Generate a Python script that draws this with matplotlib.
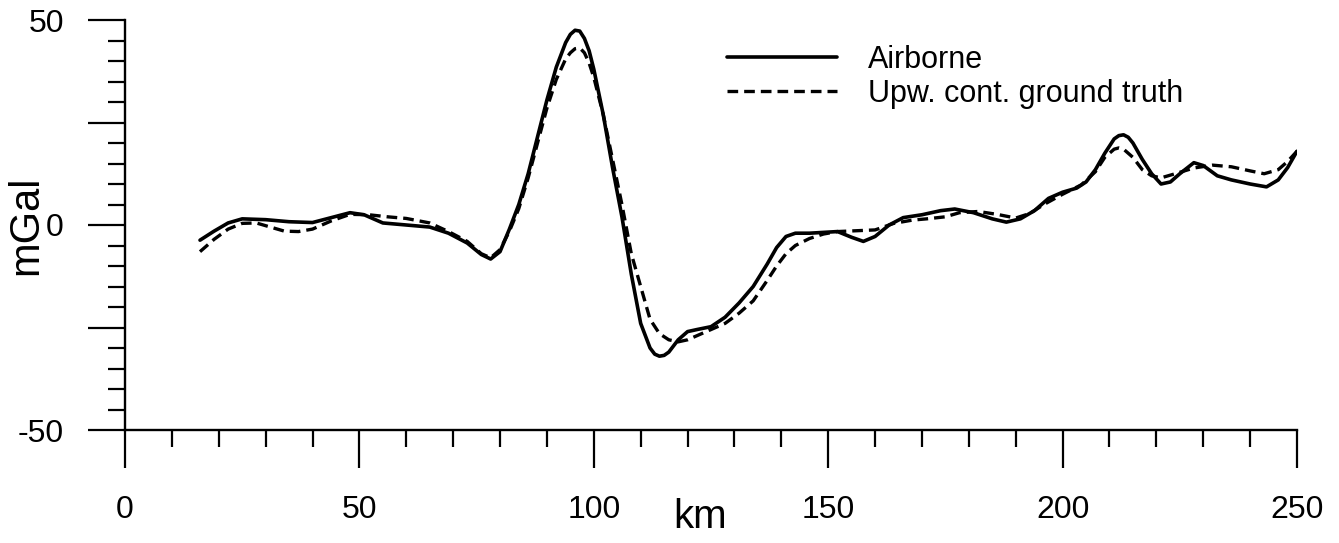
import matplotlib
matplotlib.use('Agg')
import matplotlib.pyplot as plt
from matplotlib.ticker import MultipleLocator

# Airborne gravity profile (km, mGal)
km_air = [16, 19, 22, 25, 30, 35, 40, 44, 48, 51, 55, 60, 65, 69, 73, 76, 78, 80, 82, 84,
          86, 88, 90, 92, 94, 95, 96, 97, 98, 99, 100, 102, 104, 106, 108, 110, 112, 113,
          114, 115, 116, 118, 120, 122, 125, 128, 131, 134, 137, 139, 141, 143, 146, 149,
          152, 155, 157.5, 160, 163, 166, 170, 174, 177, 181, 185, 188, 191, 194, 197, 200,
          203, 205, 207, 209, 211, 212, 213, 214, 215, 217, 219, 221, 223, 225, 228, 230,
          233, 236, 240, 243.5, 246, 248, 250]
mgal_air = [-3.7, -1.5, 0.5, 1.5, 1.3, 0.8, 0.6, 1.8, 3.0, 2.5, 0.5, 0.0, -0.5, -2.0, -4.4,
            -7.2, -8.3, -6.5, -1.0, 5.0, 12.5, 21.5, 30.5, 38.5, 44.5, 46.5, 47.5, 47.3, 45.5,
            42.5, 38.0, 27.0, 14.0, 2.0, -12.0, -24.0, -30.0, -31.5, -32.0, -31.8, -31.0,
            -28.0, -26.0, -25.5, -24.8, -22.5, -19.0, -15.0, -9.5, -5.5, -2.8, -2.0, -2.0,
            -1.8, -1.6, -3.0, -4.0, -2.8, 0.0, 1.8, 2.5, 3.5, 3.9, 3.0, 1.5, 0.7, 1.5, 3.5,
            6.5, 8.0, 9.0, 10.5, 13.5, 17.5, 21.0, 21.8, 22.0, 21.4, 20.0, 16.0, 12.5, 10.0,
            10.5, 12.5, 15.2, 14.5, 12.0, 11.0, 10.0, 9.3, 11.0, 14.0, 18.0]

# Upward continued ground truth (km, mGal)
km_gt = [16, 19, 22, 25, 28, 31, 34, 37, 40, 44, 48, 52, 56, 60, 65, 69, 73, 76, 78, 80,
         82, 84, 86, 88, 90, 92, 94, 95, 96, 97, 98, 99, 100, 102, 104, 106, 108, 110, 112,
         114, 116, 118, 120, 122, 125, 128, 131, 134, 137, 139, 141, 143, 146, 149, 152, 156,
         160, 164, 168, 171, 175, 178, 182, 186, 190, 193, 196, 200, 204, 207, 209, 211, 212,
         213, 215, 217, 219, 221, 224, 228, 232, 236, 240, 243, 246, 248, 250]
mgal_gt = [-6.5, -3.5, -1.0, 0.4, 0.5, -0.5, -1.5, -1.6, -1.0, 1.0, 2.6, 2.5, 2.0, 1.6, 0.5,
           -1.6, -4.0, -7.0, -8.0, -6.0, -1.5, 4.0, 11.5, 20.0, 28.5, 35.5, 40.5, 42.0, 43.0,
           43.2, 42.0, 39.5, 36.0, 27.0, 16.0, 5.0, -7.0, -15.0, -23.0, -26.5, -28.0, -28.5,
           -28.0, -27.0, -25.5, -24.0, -21.5, -18.5, -13.5, -10.0, -7.0, -5.0, -3.3, -2.2,
           -1.6, -1.4, -1.2, 0.4, 1.2, 1.5, 2.0, 3.0, 3.3, 2.6, 1.7, 2.8, 5.0, 7.5, 9.8, 13.0,
           16.5, 18.5, 18.8, 18.5, 16.5, 13.5, 12.0, 11.5, 12.5, 13.9, 14.6, 14.2, 13.2, 12.5,
           13.5, 15.5, 18.0]

x_ticks = [0, 50, 100, 150, 200, 250]
x_tick_labels = ['0', '50', '100', '150', '200', '250']
y_ticks = [-50, -25, 0, 25, 50]
y_tick_labels = ['-50', '', '0', '', '50']
series_labels = ['Airborne', 'Upw. cont. ground truth']

plt.rcParams['font.family'] = ['Liberation Sans', 'DejaVu Sans']

W, H = 1339, 543
fig = plt.figure(figsize=(W / 100, H / 100), dpi=100)
ax = fig.add_axes([125 / W, 113 / H, (1297 - 125) / W, 410 / H])

ax.plot(km_air, mgal_air, color='black', lw=2.6, label=series_labels[0],
        solid_joinstyle='round', solid_capstyle='round')
ax.plot(km_gt, mgal_gt, color='black', lw=2.4, ls=(0, (3.2, 1.8)),
        label=series_labels[1])

ax.set_xlim(0, 250)
ax.set_ylim(-50, 50)
for s in ['top', 'right']:
    ax.spines[s].set_visible(False)
for s in ['left', 'bottom']:
    ax.spines[s].set_linewidth(1.7)

ax.set_xticks(x_ticks, labels=x_tick_labels)
ax.xaxis.set_minor_locator(MultipleLocator(10))
ax.set_yticks(y_ticks, labels=y_tick_labels)
ax.yaxis.set_minor_locator(MultipleLocator(5))

ax.tick_params(axis='both', which='major', direction='out', length=27, width=1.6,
               labelsize=23)
ax.tick_params(axis='both', which='minor', direction='out', length=12.5, width=1.6)
ax.tick_params(axis='x', which='major', pad=20)
ax.tick_params(axis='y', which='major', pad=17)

ax.set_xlabel('km', fontsize=29)
ax.xaxis.set_label_coords((700 - 125) / 1172, (430 - 517) / 410)
ax.xaxis.label.set_va('center')
ax.set_ylabel('mGal', fontsize=30)
ax.yaxis.set_label_coords((26 - 125) / 1172, 0.5)
ax.yaxis.label.set_va('center')

leg = ax.legend(loc='upper left', bbox_to_anchor=((727 - 125) / 1172, (430 - 45) / 410),
                frameon=False, fontsize=22, handlelength=3.6, handletextpad=1.0,
                labelspacing=0.12, borderpad=0, borderaxespad=0)

fig.savefig('out.png', dpi=100, facecolor='white')
